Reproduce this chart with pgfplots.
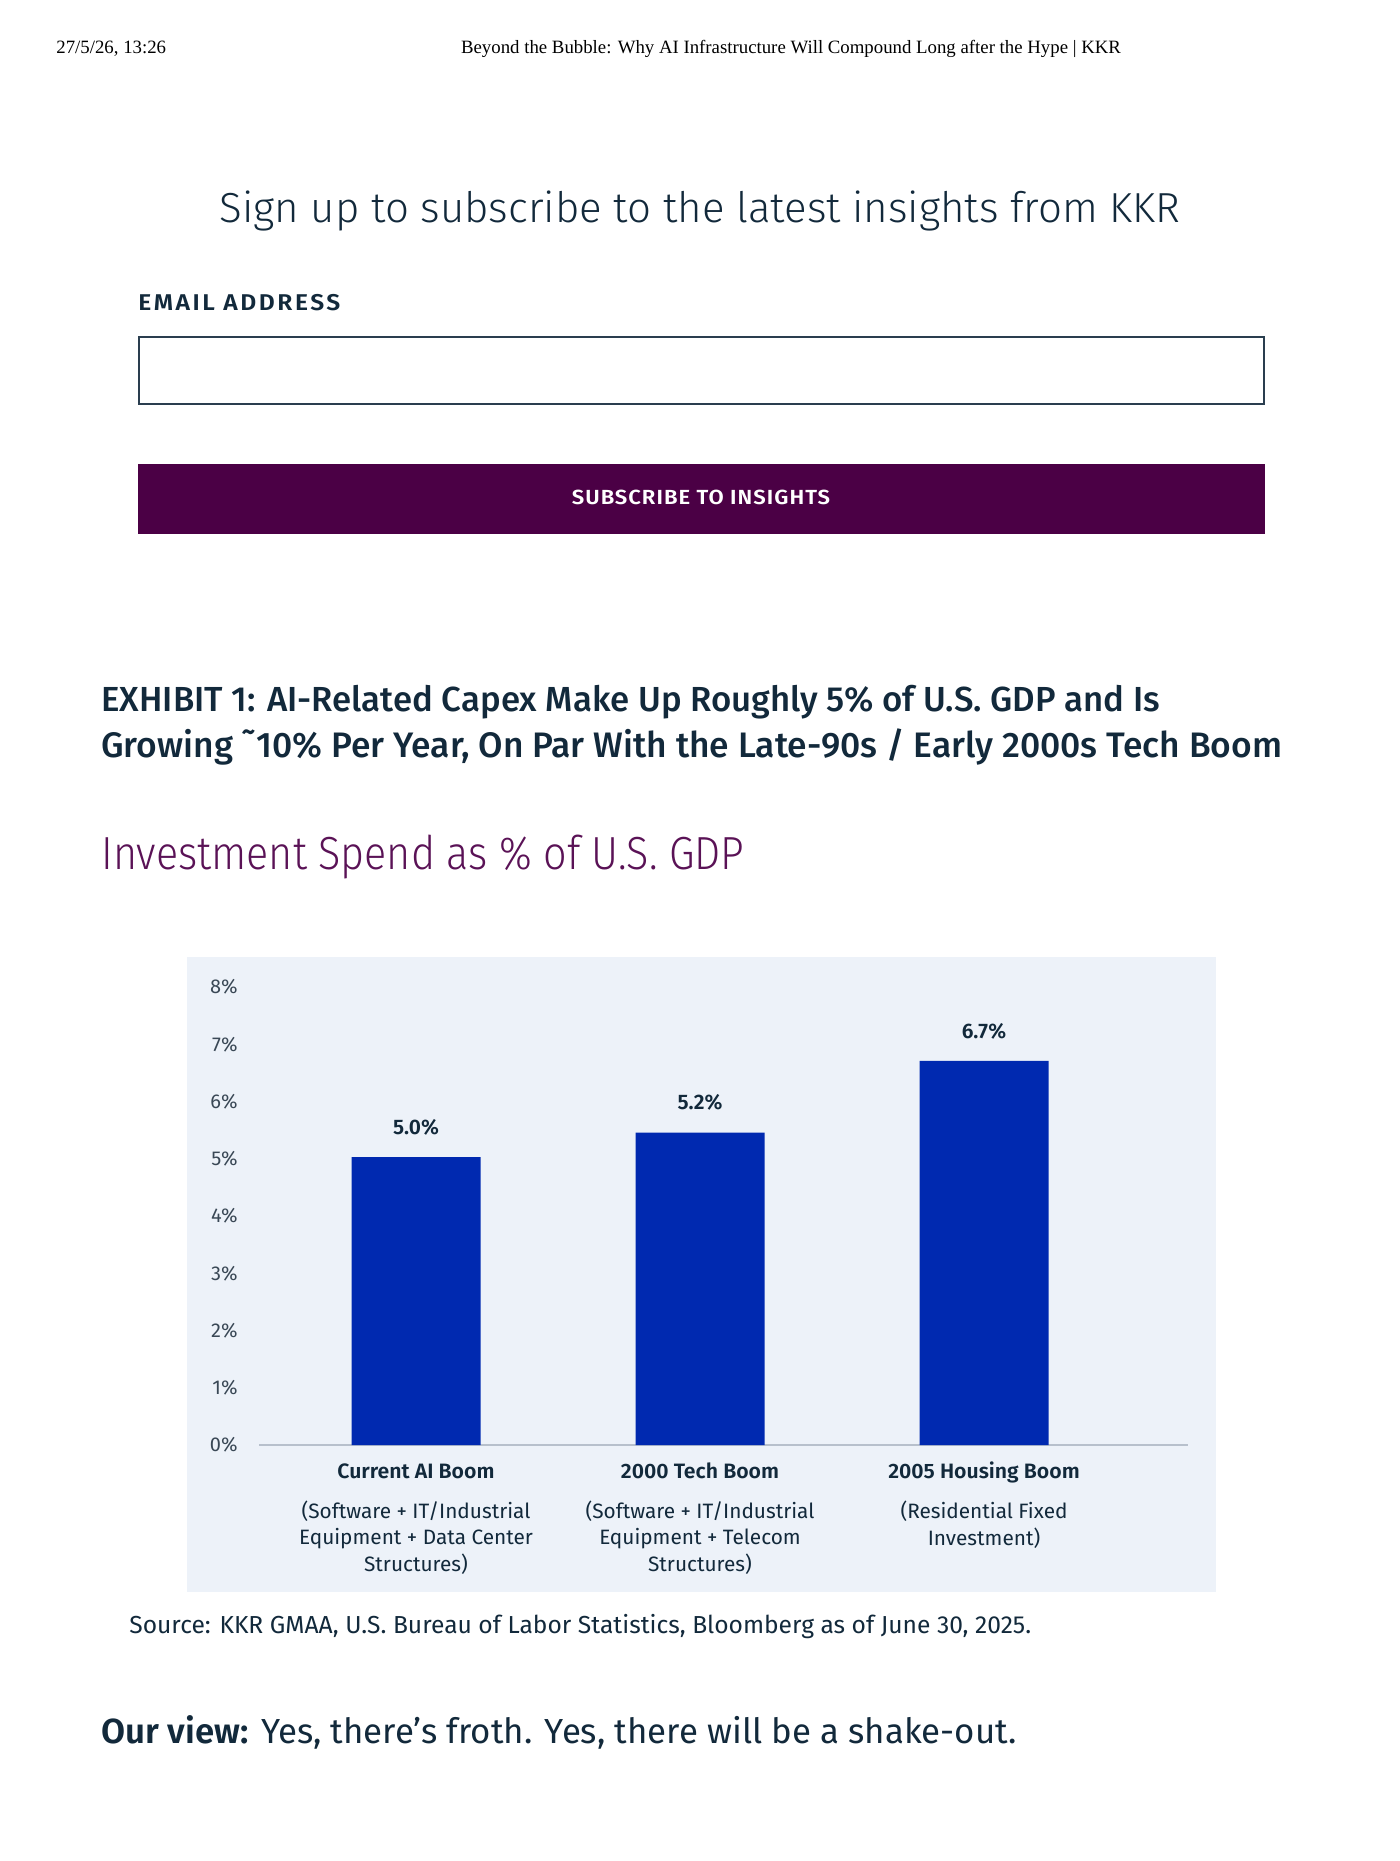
\documentclass[border=0pt]{standalone}
\usepackage{fontspec}
\setmainfont{Fira Sans}
\newfontfamily\lightfont{Fira Sans Light}
\newfontfamily\lightnarrow{Fira Sans Light}[FakeStretch=0.89]
\newfontfamily\semifont{Fira Sans SemiBold}
\newfontfamily\catfont{Fira Sans SemiBold}[FakeStretch=1.02]
\newfontfamily\mediumfont{Fira Sans Medium}
\newfontfamily\emailfont{Fira Sans SemiBold}[FakeStretch=1.08,LetterSpace=11]
\newfontfamily\btnfont{Fira Sans SemiBold}[FakeStretch=1.08,LetterSpace=5]
\newfontfamily\timesfont{Liberation Serif}
\usepackage{pgfplots}
\pgfplotsset{compat=1.18}
\definecolor{navy}{HTML}{12293B}
\definecolor{kkrpurple}{HTML}{4B0045}
\definecolor{subpurple}{HTML}{5A1256}
\definecolor{panel}{HTML}{EDF2F9}
\definecolor{barblue}{HTML}{0029B0}
\definecolor{axisgray}{HTML}{B7C0CC}
\definecolor{tickgray}{HTML}{3A4856}
\begin{document}
\begin{tikzpicture}
\begin{scope}[x=0.5pt,y=-0.5pt]
\path[use as bounding box, fill=white] (0,0) rectangle (1400,1861);
\node[anchor=base west, inner sep=0, font=\timesfont\fontsize{9.4}{11}\selectfont] at (56,54) {27/5/26, 13:26};
\node[anchor=base, inner sep=0, font=\timesfont\fontsize{9.4}{11}\selectfont] at (791,54) {Beyond the Bubble: Why AI Infrastructure Will Compound Long after the Hype | KKR};
\node[anchor=base, inner sep=0, font=\lightfont\fontsize{21}{25}\selectfont, text=navy] at (700,223) {Sign up to subscribe to the latest insights from KKR};
\node[anchor=base west, inner sep=0, font=\emailfont\fontsize{11.4}{13}\selectfont, text=navy] at (138,311) {EMAIL ADDRESS};
\draw[draw=navy!90, line width=1pt] (139,337) rectangle (1264,404);
\fill[kkrpurple] (138,464) rectangle (1265,534);
\node[anchor=base, inner sep=0, font=\btnfont\fontsize{10.2}{12}\selectfont, text=white] at (701,504) {SUBSCRIBE TO INSIGHTS};
\node[anchor=base west, inner sep=0, font=\mediumfont\fontsize{17.4}{20}\selectfont, text=navy] at (101,711) {EXHIBIT 1: AI-Related Capex Make Up Roughly 5\% of U.S. GDP and Is};
\node[anchor=base west, inner sep=0, font=\mediumfont\fontsize{17.7}{20}\selectfont, text=navy] at (101,757) {Growing ˜10\% Per Year, On Par With the Late-90s / Early 2000s Tech Boom};
\node[anchor=base west, inner sep=0, font=\lightnarrow\fontsize{23.2}{28}\selectfont, text=subpurple] at (101,869) {Investment Spend as \% of U.S. GDP};
\fill[panel] (187,957) rectangle (1216,1592);
\node[anchor=base west, inner sep=0, font=\fontsize{12.3}{14}\selectfont, text=navy] at (129,1633) {Source: KKR GMAA, U.S. Bureau of Labor Statistics, Bloomberg as of June 30, 2025.};
\node[anchor=base west, inner sep=0, font=\fontsize{17.4}{20}\selectfont, text=navy] at (101,1743) {{\semifont Our view:} Yes, there’s froth. Yes, there will be a shake-out.};
\end{scope}
\begin{axis}[
  at={(129.5pt,-722.5pt)}, anchor=south west,
  scale only axis, width=464.5pt, height=229pt,
  xmin=-0.5528, xmax=2.7183, ymin=0, ymax=8,
  clip=false,
  axis x line*=bottom, axis y line*=left,
  y axis line style={draw=none},
  x axis line style={draw=axisgray, line width=1.2pt},
  major tick length=0pt,
  ytick={0,1,2,3,4,5,6,7,8},
  yticklabels={0\%,1\%,2\%,3\%,4\%,5\%,6\%,7\%,8\%},
  yticklabel style={font=\fontsize{10}{12}\selectfont, text=tickgray, anchor=east, inner sep=0pt, xshift=-10.5pt},
  xtick={0,1,2},
  xticklabels={
    {\rule{0pt}{8pt}{\catfont Current AI Boom}\\[6.8pt](Software + IT/Industrial\\Equipment + Data Center\\Structures)},
    {\rule{0pt}{8pt}{\catfont 2000 Tech Boom}\\[6.8pt](Software + IT/Industrial\\Equipment + Telecom\\Structures)},
    {\rule{0pt}{8pt}{\catfont 2005 Housing Boom}\\[6.8pt](Residential Fixed\\Investment)}
  },
  xticklabel style={font=\fontsize{10.4}{13.2}\selectfont, text=navy, align=center, anchor=north, inner sep=0pt, yshift=-8.4pt},
]
\addplot[ybar, bar width=64.5pt, fill=barblue, draw=none,
  nodes near coords, point meta=explicit symbolic,
  nodes near coords style={font=\semifont\fontsize{10.5}{12}\selectfont, text=navy, anchor=center, yshift=15pt}]
  coordinates {(0,5.03) [5.0\%] (1,5.455) [5.2\%] (2,6.71) [6.7\%]};
\end{axis}
\end{tikzpicture}
\end{document}
